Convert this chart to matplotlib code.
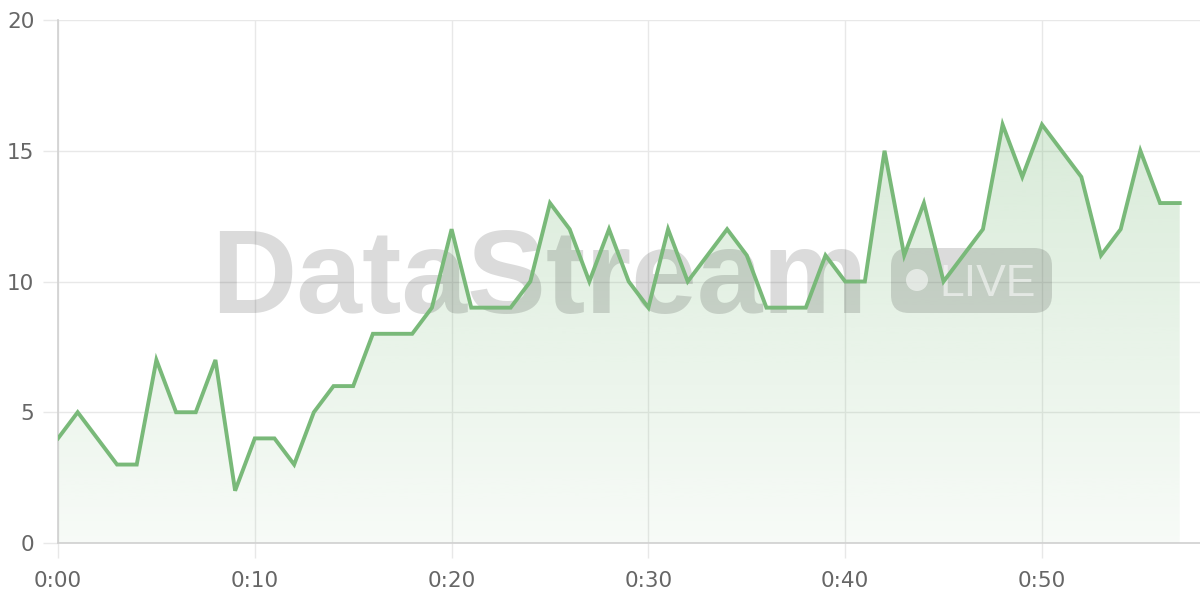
import matplotlib
matplotlib.use("Agg")
import matplotlib.pyplot as plt
import numpy as np
from matplotlib.patches import FancyBboxPatch, Circle, Polygon
from matplotlib.transforms import IdentityTransform

# seconds since start, one sample per second
seconds = list(range(58))
values = [4, 5, 4, 3, 3, 7, 5, 5, 7, 2,
          4, 4, 3, 5, 6, 6, 8, 8, 8, 9,
          12, 9, 9, 9, 10, 13, 12, 10, 12, 10,
          9, 12, 10, 11, 12, 11, 9, 9, 9, 11,
          10, 10, 15, 11, 13, 10, 11, 12, 16, 14,
          16, 15, 14, 11, 12, 15, 13, 13]
xticks = [0, 10, 20, 30, 40, 50]
xtick_labels = ["0:00", "0:10", "0:20", "0:30", "0:40", "0:50"]
yticks = [0, 5, 10, 15, 20]

line_color = "#79b979"
grid_color = "#e8e8e8"
text_color = "#666666"

plt.rcParams["font.family"] = ["DejaVu Sans"]

fig = plt.figure(figsize=(12, 6), dpi=100)
ax = fig.add_axes([58 / 1200, 1 - 543 / 600, 1 - 58 / 1200, (543 - 20) / 600])

# gradient fill under the line
verts = [(seconds[0], 0)] + list(zip(seconds, values)) + [(seconds[-1], 0)]
poly = Polygon(verts, closed=True, facecolor="none", edgecolor="none")
ax.add_patch(poly)
grad = np.zeros((100, 1, 4))
grad[:, 0, 0] = 122 / 255
grad[:, 0, 1] = 186 / 255
grad[:, 0, 2] = 122 / 255
grad[:, 0, 3] = np.linspace(0.30, 0.06, 100)
im = ax.imshow(grad, aspect="auto", extent=[0, 57, 0, 17], origin="upper",
               zorder=1, interpolation="bilinear")
im.set_clip_path(poly)

ax.plot(seconds, values, color=line_color, linewidth=2.8, zorder=3,
        solid_joinstyle="miter")

ax.set_xlim(0, 58.03)
ax.set_ylim(0, 20)
ax.set_xticks(xticks)
ax.set_xticklabels(xtick_labels)
ax.set_yticks(yticks)
ax.grid(True, color=grid_color, linewidth=1)
ax.set_axisbelow(True)
for s in ["top", "right"]:
    ax.spines[s].set_visible(False)
for s in ["left", "bottom"]:
    ax.spines[s].set_color("#d0d0d0")
    ax.spines[s].set_linewidth(1.2)
ax.tick_params(length=11, width=1, color=grid_color, labelsize=15.5,
               labelcolor=text_color)
ax.tick_params(axis="x", pad=9)
ax.tick_params(axis="y", pad=6)

# watermark, between the fill and the line
ax.text(211 / 1200, 1 - 313 / 600, "DataStream", transform=fig.transFigure,
        fontsize=85, fontweight="bold", family="Liberation Sans",
        color="#000000", alpha=0.14, ha="left", va="baseline", zorder=2)
tr = IdentityTransform()
pill = FancyBboxPatch((891 + 18, 600 - 313 + 18), 161 - 36, 65 - 36,
                      boxstyle="round,pad=18", transform=tr,
                      facecolor="#000000", alpha=0.14, edgecolor="none", zorder=2)
ax.add_artist(pill)
dot = Circle((917, 600 - 280), 11, transform=tr, facecolor="white",
             alpha=0.55, edgecolor="none", zorder=2.1)
ax.add_artist(dot)
ax.text(939 / 1200, 1 - 296 / 600, "LIVE", transform=fig.transFigure,
        fontsize=32, family="Liberation Sans", color="white",
        alpha=0.55, ha="left", va="baseline", zorder=2.1)

fig.savefig("out.png", dpi=100)
